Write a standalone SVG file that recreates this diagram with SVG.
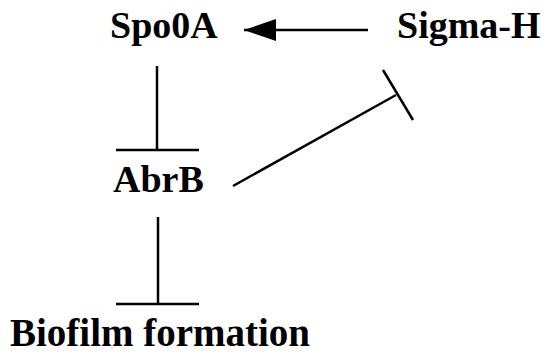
<svg xmlns="http://www.w3.org/2000/svg" width="550" height="356" viewBox="0 0 550 356">
<style>
text{font-family:'Liberation Serif','Times New Roman',Times,'DejaVu Serif',serif;font-weight:bold;font-size:38px;fill:#000}
.c{stroke:#000;stroke-width:2.5;fill:none}
</style>
<defs>
<marker id="ah" markerUnits="userSpaceOnUse" markerWidth="34" markerHeight="22" refX="32" refY="11" orient="auto">
<path d="M0,0 L32,11 L0,22 Z" fill="#000"/>
</marker>
</defs>
<rect width="550" height="356" fill="#fff"/>
<g id="spo0a"><text x="110" y="38" font-family="Liberation Serif">Spo0A</text></g>
<g id="sigmah"><text x="397" y="38" font-family="Liberation Serif">Sigma-H</text></g>
<g id="abrb"><text x="113" y="192" font-family="Liberation Serif">AbrB</text></g>
<g id="biofilm"><text x="10" y="346" font-family="Liberation Serif" style="font-size:39px">Biofilm formation</text></g>
<g id="connectors">
<line class="c" x1="368" y1="30" x2="244" y2="30" marker-end="url(#ah)"/>
<line class="c" x1="157" y1="66" x2="157" y2="150"/>
<line class="c" x1="116" y1="150" x2="199" y2="150"/>
<line class="c" x1="233" y1="186" x2="396" y2="95"/>
<line class="c" x1="383" y1="70" x2="413" y2="120"/>
<line class="c" x1="158" y1="217" x2="158" y2="304"/>
<line class="c" x1="116" y1="304" x2="199" y2="304"/>
</g>
</svg>
